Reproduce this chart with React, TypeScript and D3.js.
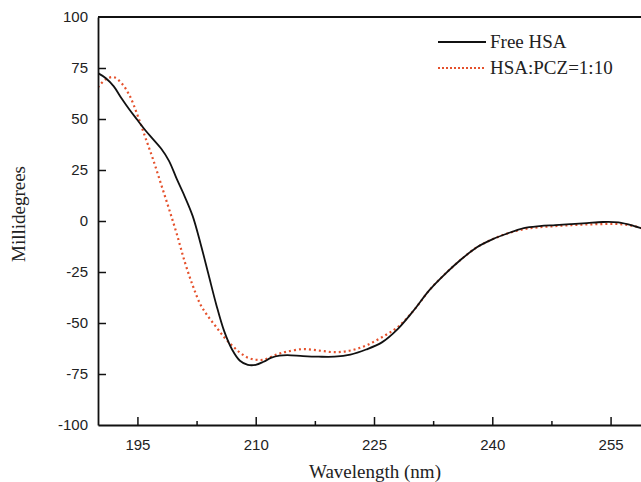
import { useEffect, useRef } from 'react';
import * as d3 from 'd3';

const wavelengths = [
  190, 191, 192, 193, 194, 195, 196, 197, 198, 199, 200, 201, 202, 203, 204, 205, 206, 207, 208, 209,
  210, 211, 212, 213, 214, 216, 218, 220, 222, 224, 226, 228, 230, 232, 234, 236, 238, 240, 242, 244,
  246, 248, 250, 252, 254, 256, 258, 260,
];
const freeHSA = [
  72.5, 70, 66, 60, 54.5, 49.5, 44.5, 40, 35.5, 29.5, 20.5, 12, 2.5, -11, -26, -41, -54, -63, -68.5, -70.5,
  -70.5, -69, -67, -66, -65.7, -66.2, -66.5, -66.5, -65.5, -63, -59.5, -53, -44, -34, -26, -19, -13, -9, -6, -3.5,
  -2.5, -2, -1.5, -1, -0.5, -0.7, -2.5, -5,
];
const hsaPCZ = [
  65.5, 69.5, 70.5, 67.5, 61.5, 52, 41, 30, 18, 6, -6.5, -20, -31.5, -41, -47, -52, -57, -61, -64.5, -67,
  -68, -68, -66.5, -65, -64, -62.8, -63.5, -64.3, -63.5, -61, -57, -52, -44, -34, -26, -19, -13, -9, -6, -4,
  -3, -2.5, -2, -1.7, -1.5, -1.5, -2.5, -5,
];
const xTicks = [195, 210, 225, 240, 255];
const xMinorTicks = [202.5, 217.5, 232.5, 247.5];
const yTicks = [100, 75, 50, 25, 0, -25, -50, -75, -100];
const seriesNames = ['Free HSA', 'HSA:PCZ=1:10'];

const W = 641, H = 482;
const X0 = 98, X1 = 650, Y0 = 425, Y1 = 17;
const RED = '#e5512c';
const SANS = '"Liberation Sans", Arial, sans-serif';
const SERIF = '"Liberation Serif", "Times New Roman", serif';

export default function App() {
  const svgRef = useRef<SVGSVGElement>(null);

  useEffect(() => {
    const svg = d3.select(svgRef.current);
    svg.selectAll('*').remove();

    const x = d3.scaleLinear().domain([190, 260]).range([X0, X1]);
    const y = d3.scaleLinear().domain([-100, 100]).range([Y0, Y1]);

    svg.append('defs').append('clipPath').attr('id', 'plot')
      .append('rect').attr('x', X0).attr('y', Y1).attr('width', X1 - X0).attr('height', Y0 - Y1);

    const line = d3.line<number>()
      .x((_, i) => x(wavelengths[i]))
      .y((d) => y(d))
      .curve(d3.curveCatmullRom.alpha(0.5));

    const lines = svg.append('g').attr('clip-path', 'url(#plot)');
    lines.append('path').attr('d', line(hsaPCZ))
      .attr('fill', 'none').attr('stroke', RED).attr('stroke-width', 2.2)
      .attr('stroke-dasharray', '2,3');
    lines.append('path').attr('d', line(freeHSA))
      .attr('fill', 'none').attr('stroke', '#111').attr('stroke-width', 1.8);

    // Axes
    svg.append('g')
      .attr('transform', `translate(0,${Y0})`)
      .call(d3.axisBottom(x).tickValues(xTicks).tickSizeInner(-8).tickSizeOuter(0).tickPadding(14))
      .call((g) => {
        g.select('.domain').attr('stroke', '#111').attr('stroke-width', 1.8);
        g.selectAll('line').attr('stroke', '#111').attr('stroke-width', 1.5);
        g.selectAll('text').attr('font-family', SANS).attr('font-size', 15).attr('fill', '#222');
      });
    svg.append('g')
      .attr('transform', `translate(0,${Y0})`)
      .call(d3.axisBottom(x).tickValues(xMinorTicks).tickSize(-4).tickFormat(() => ''))
      .call((g) => {
        g.select('.domain').remove();
        g.selectAll('line').attr('stroke', '#111').attr('stroke-width', 1.5);
      });
    svg.append('g')
      .attr('transform', `translate(${X0},0)`)
      .call(d3.axisLeft(y).tickValues(yTicks).tickFormat((d) => String(d))
        .tickSizeInner(-8).tickSizeOuter(0).tickPadding(10))
      .call((g) => {
        g.select('.domain').attr('stroke', '#111').attr('stroke-width', 1.8);
        g.selectAll('line').attr('stroke', '#111').attr('stroke-width', 1.5);
        g.selectAll('.tick').filter((d) => d === 100 || d === -100).select('line').remove();
        g.selectAll('text').attr('font-family', SANS).attr('font-size', 15).attr('fill', '#222');
      });
    svg.append('line')
      .attr('x1', X0).attr('x2', X1).attr('y1', Y1).attr('y2', Y1)
      .attr('stroke', '#111').attr('stroke-width', 1.8);

    // Titles
    svg.append('text')
      .attr('x', 375).attr('y', 478)
      .attr('text-anchor', 'middle').attr('font-family', SERIF).attr('font-size', 19).attr('fill', '#222')
      .text('Wavelength (nm)');
    svg.append('text')
      .attr('transform', 'translate(25,214) rotate(-90)')
      .attr('text-anchor', 'middle').attr('font-family', SERIF).attr('font-size', 19).attr('fill', '#222')
      .text('Millidegrees');

    // Legend
    const leg = svg.append('g').attr('transform', 'translate(438,42)');
    seriesNames.forEach((name, i) => {
      const row = leg.append('g').attr('transform', `translate(0,${i * 26})`);
      row.append('line').attr('x1', 0).attr('x2', 48).attr('y1', 0).attr('y2', 0)
        .attr('stroke', i === 0 ? '#111' : RED).attr('stroke-width', 1.8)
        .attr('stroke-dasharray', i === 0 ? null : '2,2');
      row.append('text').attr('x', 52).attr('y', 6)
        .attr('font-family', SERIF).attr('font-size', 19).attr('fill', '#222')
        .text(name);
    });
  }, []);

  return (
    <svg ref={svgRef} width={W} height={H}
      style={{ position: 'absolute', left: 0, top: 0, background: '#fff' }} />
  );
}
